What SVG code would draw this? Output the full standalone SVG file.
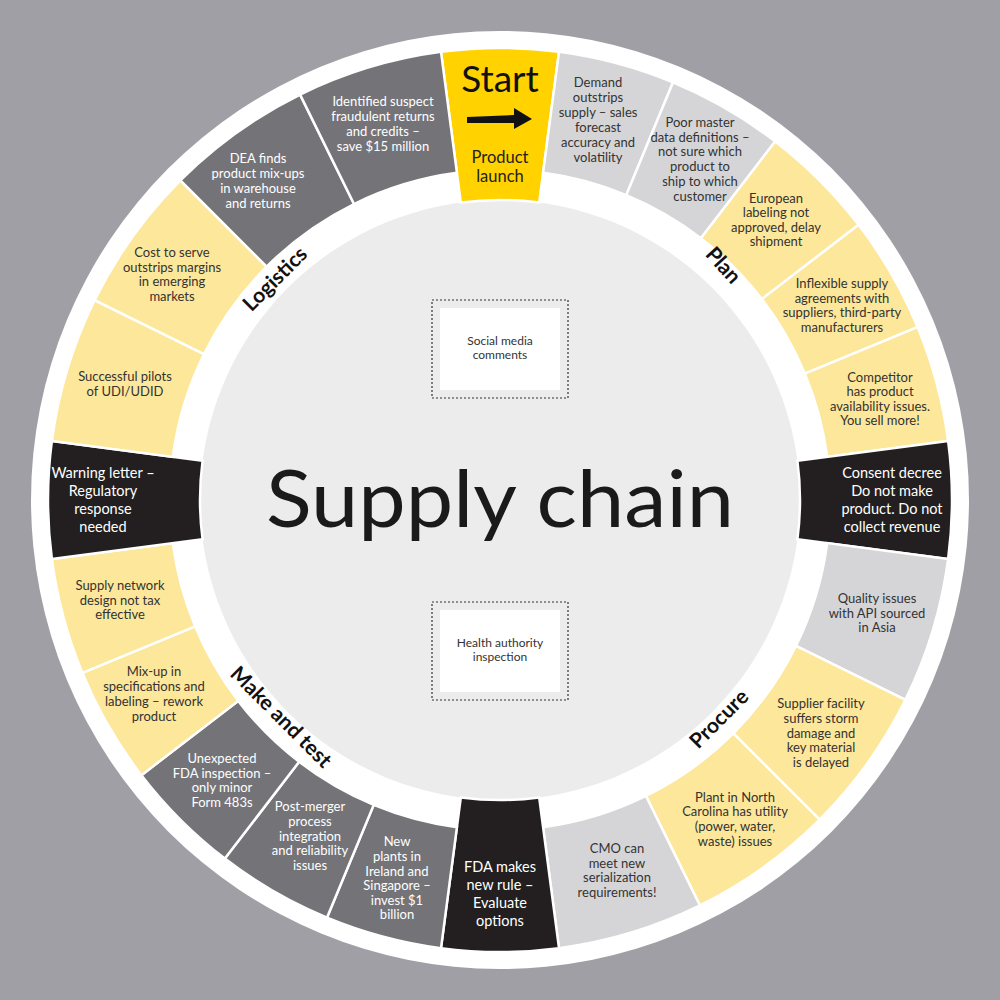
<svg xmlns="http://www.w3.org/2000/svg" xmlns:xlink="http://www.w3.org/1999/xlink" width="1000" height="1000" viewBox="0 0 1000 1000">
<style>
.seg{stroke:#fff;stroke-width:2.5}
.sy{fill:#ffd200}.lg{fill:#d5d5d7}.py{fill:#fde79a}.dg{fill:#747478}.bk{fill:#231f20}
text{font-family:"Lato","Liberation Sans",sans-serif;text-anchor:middle}
.t{font-size:13px;fill:#333}
.w{font-size:13px;fill:#fff}
.bt{font-size:14.5px;fill:#fff}
.lab{font-size:21px;font-weight:bold;fill:#111}
</style>
<defs>
<path id="A15" class="seg" d="M441,51.87 A452,452 0 0 1 559,51.87 L543.07,172.82 A330,330 0 0 0 456.93,172.82 Z"/>
<path id="A18" class="seg" d="M426.37,54.04 A452,452 0 0 1 573.63,54.04 L553.75,174.41 A330,330 0 0 0 446.25,174.41 Z"/>
<path id="S15" class="seg" d="M441,51.87 A452,452 0 0 1 559,51.87 L539.16,202.57 A300,300 0 0 0 460.84,202.57 Z"/>
</defs>
<rect width="1000" height="1000" fill="#a09fa5"/>
<circle cx="500" cy="500" r="469" fill="#fff"/>
<circle cx="500" cy="500" r="300" fill="#ececec"/>
<g id="segments">
<use xlink:href="#S15" class="sy"/>
<use xlink:href="#A15" class="lg" transform="rotate(15 500 500)"/>
<use xlink:href="#A15" class="lg" transform="rotate(30 500 500)"/>
<use xlink:href="#A15" class="py" transform="rotate(45 500 500)"/>
<use xlink:href="#A15" class="py" transform="rotate(60 500 500)"/>
<use xlink:href="#A15" class="py" transform="rotate(75 500 500)"/>
<use xlink:href="#S15" class="bk" transform="rotate(90 500 500)"/>
<use xlink:href="#A18" class="lg" transform="rotate(106.875 500 500)"/>
<use xlink:href="#A18" class="py" transform="rotate(125.625 500 500)"/>
<use xlink:href="#A18" class="py" transform="rotate(144.375 500 500)"/>
<use xlink:href="#A18" class="lg" transform="rotate(163.125 500 500)"/>
<use xlink:href="#S15" class="bk" transform="rotate(180 500 500)"/>
<use xlink:href="#A15" class="dg" transform="rotate(195 500 500)"/>
<use xlink:href="#A15" class="dg" transform="rotate(210 500 500)"/>
<use xlink:href="#A15" class="dg" transform="rotate(225 500 500)"/>
<use xlink:href="#A15" class="py" transform="rotate(240 500 500)"/>
<use xlink:href="#A15" class="py" transform="rotate(255 500 500)"/>
<use xlink:href="#S15" class="bk" transform="rotate(270 500 500)"/>
<use xlink:href="#A18" class="py" transform="rotate(286.875 500 500)"/>
<use xlink:href="#A18" class="py" transform="rotate(305.625 500 500)"/>
<use xlink:href="#A18" class="dg" transform="rotate(324.375 500 500)"/>
<use xlink:href="#A18" class="dg" transform="rotate(343.125 500 500)"/>
</g>
<g id="start">
<text x="500" y="92" style="font-size:37px;fill:#111">Start</text>
<path d="M467,117 L514,115 L514,108 L532,119 L514,129 L514,123 L467,123 Z" fill="#111"/>
<text x="500" y="163" style="font-size:16.5px;fill:#222">Product</text>
<text x="500" y="182" style="font-size:16.5px;fill:#222">launch</text>
</g>
<g id="n-demand" class="t"><text class="t" x="598" y="87">Demand</text><text class="t" x="598" y="102">outstrips</text><text class="t" x="598" y="117">supply – sales</text><text class="t" x="598" y="132">forecast</text><text class="t" x="598" y="147">accuracy and</text><text class="t" x="598" y="162">volatility</text></g>
<g id="n-poor"><text class="t" x="700" y="127">Poor master</text><text class="t" x="700" y="142">data definitions –</text><text class="t" x="700" y="156">not sure which</text><text class="t" x="700" y="171">product to</text><text class="t" x="700" y="186">ship to which</text><text class="t" x="700" y="201">customer</text></g>
<g id="n-euro"><text class="t" x="776" y="203">European</text><text class="t" x="776" y="217">labeling not</text><text class="t" x="776" y="232">approved, delay</text><text class="t" x="776" y="246">shipment</text></g>
<g id="n-inflex"><text class="t" x="842" y="288">Inflexible supply</text><text class="t" x="842" y="303">agreements with</text><text class="t" x="842" y="317">suppliers, third-party</text><text class="t" x="842" y="332">manufacturers</text></g>
<g id="n-comp"><text class="t" x="880" y="382">Competitor</text><text class="t" x="880" y="396">has product</text><text class="t" x="880" y="411">availability issues.</text><text class="t" x="880" y="425">You sell more!</text></g>
<g id="n-consent"><text class="bt" x="892" y="478">Consent decree</text><text class="bt" x="892" y="496">Do not make</text><text class="bt" x="892" y="514">product. Do not</text><text class="bt" x="892" y="532">collect revenue</text></g>
<g id="n-quality"><text class="t" x="877" y="603">Quality issues</text><text class="t" x="877" y="618">with API sourced</text><text class="t" x="877" y="632">in Asia</text></g>
<g id="n-supplier"><text class="t" x="821" y="708">Supplier facility</text><text class="t" x="821" y="723">suffers storm</text><text class="t" x="821" y="738">damage and</text><text class="t" x="821" y="752">key material</text><text class="t" x="821" y="767">is delayed</text></g>
<g id="n-plant"><text class="t" x="735" y="802">Plant in North</text><text class="t" x="735" y="816">Carolina has utility</text><text class="t" x="735" y="831">(power, water,</text><text class="t" x="735" y="846">waste) issues</text></g>
<g id="n-cmo"><text class="t" x="617" y="853">CMO can</text><text class="t" x="617" y="868">meet new</text><text class="t" x="617" y="882">serialization</text><text class="t" x="617" y="897">requirements!</text></g>
<g id="n-fda"><text class="bt" x="500" y="872">FDA makes</text><text class="bt" x="500" y="890">new rule –</text><text class="bt" x="500" y="908">Evaluate</text><text class="bt" x="500" y="926">options</text></g>
<g id="n-newplants"><text class="w" x="397" y="846">New</text><text class="w" x="397" y="861">plants in</text><text class="w" x="397" y="876">Ireland and</text><text class="w" x="397" y="890">Singapore –</text><text class="w" x="397" y="905">invest $1</text><text class="w" x="397" y="919">billion</text></g>
<g id="n-merger"><text class="w" x="310" y="811">Post-merger</text><text class="w" x="310" y="826">process</text><text class="w" x="310" y="841">integration</text><text class="w" x="310" y="855">and reliability</text><text class="w" x="310" y="870">issues</text></g>
<g id="n-unexp"><text class="w" x="222" y="763">Unexpected</text><text class="w" x="222" y="778">FDA inspection –</text><text class="w" x="222" y="792">only minor</text><text class="w" x="222" y="807">Form 483s</text></g>
<g id="n-mixup"><text class="t" x="154" y="676">Mix-up in</text><text class="t" x="154" y="691">specifications and</text><text class="t" x="154" y="706">labeling – rework</text><text class="t" x="154" y="721">product</text></g>
<g id="n-network"><text class="t" x="120" y="590">Supply network</text><text class="t" x="120" y="605">design not tax</text><text class="t" x="120" y="619">effective</text></g>
<g id="n-warning"><text class="bt" x="103" y="478">Warning letter –</text><text class="bt" x="103" y="496">Regulatory</text><text class="bt" x="103" y="514">response</text><text class="bt" x="103" y="532">needed</text></g>
<g id="n-pilots"><text class="t" x="125" y="381">Successful pilots</text><text class="t" x="125" y="396">of UDI/UDID</text></g>
<g id="n-cost"><text class="t" x="172" y="257">Cost to serve</text><text class="t" x="172" y="272">outstrips margins</text><text class="t" x="172" y="286">in emerging</text><text class="t" x="172" y="301">markets</text></g>
<g id="n-dea"><text class="w" x="258" y="163">DEA finds</text><text class="w" x="258" y="178">product mix-ups</text><text class="w" x="258" y="193">in warehouse</text><text class="w" x="258" y="208">and returns</text></g>
<g id="n-ident"><text class="w" x="383" y="106">Identified suspect</text><text class="w" x="383" y="121">fraudulent returns</text><text class="w" x="383" y="136">and credits –</text><text class="w" x="383" y="151">save $15 million</text></g>
<g id="labels">
<text class="lab" transform="translate(280,284) rotate(-45)">Logistics</text>
<text class="lab" transform="translate(718,270) rotate(48)">Plan</text>
<text class="lab" transform="translate(724,724) rotate(-45)">Procure</text>
<text class="lab" transform="translate(276,722) rotate(45)">Make and test</text>
</g>
<g id="center">
<text x="500" y="527" textLength="468" lengthAdjust="spacingAndGlyphs" style="font-size:80px;fill:#1a1a1a">Supply chain</text>
</g>
<g id="box-social">
<rect x="432" y="300" width="136" height="98" fill="none" stroke="#333" stroke-width="1.2" stroke-dasharray="2,2"/>
<rect x="440" y="308" width="120" height="82" fill="#fff"/>
<text x="500" y="345" style="font-size:12px;fill:#333">Social media</text>
<text x="500" y="359" style="font-size:12px;fill:#333">comments</text>
</g>
<g id="box-health">
<rect x="432" y="602" width="136" height="98" fill="none" stroke="#333" stroke-width="1.2" stroke-dasharray="2,2"/>
<rect x="440" y="610" width="120" height="82" fill="#fff"/>
<text x="500" y="647" style="font-size:12px;fill:#333">Health authority</text>
<text x="500" y="661" style="font-size:12px;fill:#333">inspection</text>
</g>
</svg>
